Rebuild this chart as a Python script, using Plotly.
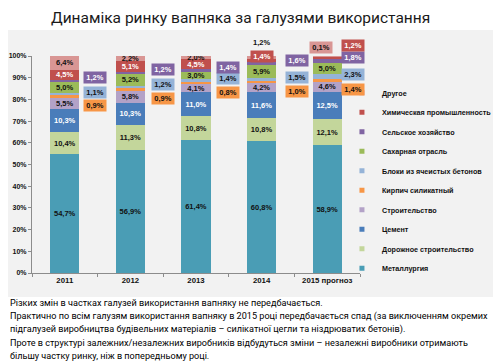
import plotly.graph_objects as go

# ---------------- data ----------------
years = ["2011", "2012", "2013", "2014", "2015 прогноз"]
series_names = ["Металлургия", "Дорожное строительство", "Цемент", "Строительство",
                "Кирпич силикатный", "Блоки из ячеистых бетонов", "Сахарная отрасль",
                "Сельское хозяйство", "Химическая промышленность", "Другое"]
metallurgy   = [54.7, 56.9, 61.4, 60.8, 58.9]
road         = [10.4, 11.3, 10.8, 10.8, 12.1]
cement       = [10.3, 10.3, 11.0, 11.6, 12.5]
construction = [5.5, 5.8, 4.1, 4.2, 4.6]
brick        = [0.9, 0.9, 0.8, 1.0, 1.4]
blocks       = [1.1, 1.2, 1.4, 1.5, 2.3]
sugar        = [5.0, 5.2, 3.0, 5.9, 5.0]
agriculture  = [1.2, 1.2, 1.4, 1.6, 1.8]
chemical     = [4.5, 5.1, 4.5, 1.4, 1.2]
other        = [6.4, 2.2, 2.0, 1.2, 0.1]
y_ticks = [0, 10, 20, 30, 40, 50, 60, 70, 80, 90, 100]
y_tick_labels = ["0%", "10%", "20%", "30%", "40%", "50%", "60%", "70%", "80%", "90%", "100%"]

title_text = "Динаміка ринку вапняка за галузями використання"
notes = [
    "Різких змін в частках галузей використання вапняку не передбачається.",
    "Практично по всім галузям використання вапняку в 2015 році передбачається спад (за виключенням окремих",
    "підгалузей виробництва будівельних матеріалів – силікатної цегли та ніздрюватих бетонів).",
    "Проте в структурі залежних/незалежних виробників відбудуться зміни – незалежні виробники отримають",
    "більшу частку ринку, ніж в попередньому році.",
]

values = [metallurgy, road, cement, construction, brick, blocks, sugar,
          agriculture, chemical, other]

# ---------------- style ----------------
colors = ["#4A9DB5", "#C3D69B", "#4A7DBA", "#B3A2C7", "#F79646",
          "#95B3D7", "#9BBB59", "#8064A2", "#C0504D", "#D99694"]
white_text = {"Цемент", "Химическая промышленность"}
box_text_color = {"Кирпич силикатный": "#111111", "Блоки из ячеистых бетонов": "#111111",
                  "Сельское хозяйство": "white", "Химическая промышленность": "white",
                  "Другое": "#111111"}
side_series = {"Кирпич силикатный": -9.5, "Блоки из ячеистых бетонов": 2,
               "Сельское хозяйство": 3}
side_xshift = [30, 33, 32, 35, 26]
special = {
    ("Химическая промышленность", 3): ("box", 0, 4),
    ("Химическая промышленность", 4): ("box", None, 12),
    ("Другое", 3): ("plain", 0, 15),
    ("Другое", 4): ("box", -6.5, 9),
}

LABEL_FONT = "Liberation Sans, Arial, sans-serif"
TEXT_FONT = "Roboto, Noto Sans, sans-serif"


def fmt(v):
    return f"{v:.1f}".replace(".", ",") + "%"


fig = go.Figure()

# legend entries (small square markers), top-down order as in the reference
for name, col in reversed(list(zip(series_names, colors))):
    fig.add_trace(go.Scatter(
        x=[years[0]], y=[None], mode="markers", name=name, legendgroup=name,
        marker=dict(symbol="square", size=5, color=col), showlegend=True,
        hoverinfo="skip"))

annotations = []
base = [0.0] * len(years)
for name, vals, col in zip(series_names, values, colors):
    texts = []
    for i, v in enumerate(vals):
        mid = base[i] + v / 2
        if name in side_series:
            texts.append("")
            annotations.append(dict(
                x=i, y=mid, xref="x", yref="y", showarrow=False,
                xshift=side_xshift[i], yshift=side_series[name],
                text=fmt(v), bgcolor=col, width=20, height=9, borderpad=1,
                font=dict(family=LABEL_FONT, size=7.5, color=box_text_color[name], weight="bold")))
        elif (name, i) in special:
            mode, xs, ys = special[(name, i)]
            if xs is None:
                xs = side_xshift[i]
            texts.append("")
            a = dict(x=i, y=mid, xref="x", yref="y", showarrow=False,
                     xshift=xs, yshift=ys, text=fmt(v),
                     font=dict(family=LABEL_FONT, size=7.5,
                               color=box_text_color[name] if mode == "box" else "#111111",
                               weight="bold"))
            if mode == "box":
                a.update(bgcolor=col, width=20, height=9, borderpad=1)
            annotations.append(a)
        else:
            texts.append(fmt(v))
        base[i] += v
    fig.add_trace(go.Bar(
        x=years, y=vals, name=name, marker=dict(color=col, line=dict(width=0)),
        text=texts, textposition="inside", insidetextanchor="middle",
        textangle=0, constraintext="none",
        insidetextfont=dict(family=LABEL_FONT, size=7.5, weight="bold",
                            color="white" if name in white_text else "#111111"),
        showlegend=False, legendgroup=name, hoverinfo="skip"))

# title and notes
annotations.append(dict(text=title_text, xref="paper", yref="paper", x=0.637, y=1.0,
                        yshift=48, xanchor="center", yanchor="top", showarrow=False,
                        borderpad=0,
                        font=dict(family=TEXT_FONT, size=15.5, color="#1a1a1a")))
for k, line in enumerate(notes):
    annotations.append(dict(text=line, xref="paper", yref="paper", x=0, xshift=-24,
                            y=0, yshift=-30 - 13.25 * k, xanchor="left", yanchor="middle",
                            showarrow=False,
                            font=dict(family=TEXT_FONT, size=9.1, color="#000000")))

fig.update_layout(
    width=493, height=356,
    margin=dict(l=24, r=141, t=48, b=91, autoexpand=False),
    barmode="stack", bargap=0.557,
    paper_bgcolor="white", plot_bgcolor="rgba(0,0,0,0)",
    showlegend=True,
    legend=dict(x=0.945, xanchor="left", y=0.897, yanchor="top",
                font=dict(family=LABEL_FONT, size=7.2, color="#111111", weight="bold"),
                bgcolor="rgba(0,0,0,0)", itemwidth=30, traceorder="grouped",
                tracegroupgap=0.5),
    annotations=annotations,
    shapes=[dict(type="rect", xref="paper", yref="paper", x0=-0.08, x1=1.44,
                 y0=-0.1106, y1=1.12, fillcolor="#F2F2F2", line=dict(width=0),
                 layer="below")],
    xaxis=dict(type="category", categoryorder="array", categoryarray=years,
               range=[-0.5, 4.5], showline=True, linecolor="#8C8C8C", linewidth=1,
               ticks="outside", tickson="boundaries", ticklen=3, tickcolor="#8C8C8C",
               tickfont=dict(family=LABEL_FONT, size=7.8, color="#111111", weight="bold"),
               showgrid=False, zeroline=False, tickangle=0),
    yaxis=dict(range=[0, 100], tickvals=y_ticks, ticktext=y_tick_labels, showline=True,
               linecolor="#8C8C8C", linewidth=1, ticks="outside", ticklen=3,
               tickcolor="#8C8C8C", showgrid=False, zeroline=False,
               tickfont=dict(family=LABEL_FONT, size=7, color="#111111", weight="bold")),
)

fig.write_html("out.html")
